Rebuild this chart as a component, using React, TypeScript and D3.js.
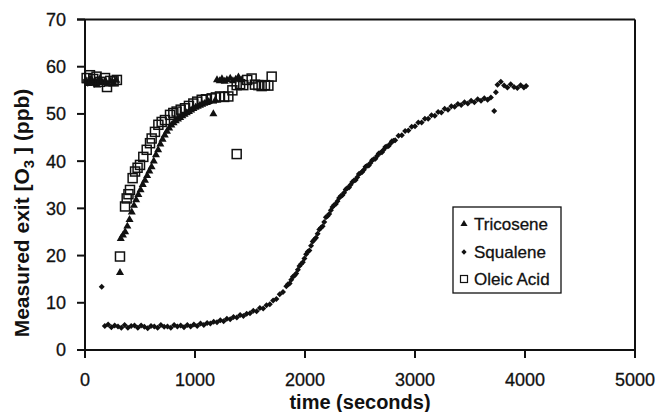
import React from "react";
import * as d3 from "d3";

// ---- data ----
const xTicks = [0, 1000, 2000, 3000, 4000, 5000];
const yTicks = [0, 10, 20, 30, 40, 50, 60, 70];
const seriesNames = ["Tricosene", "Squalene", "Oleic Acid"];

const tricoseneTime = [10, 35, 60, 85, 110, 135, 160, 185, 210, 235, 260, 285,
  318, 325, 345, 365, 385, 405, 425, 445, 465, 485, 505, 525, 545, 565, 585, 605, 625, 645, 665, 685,
  705, 725, 745, 765, 785, 805, 825, 845, 865, 885, 905, 925, 945, 965, 985, 1005, 1025, 1045, 1065,
  1085, 1105, 1125, 1167, 1185, 1200, 1225, 1245, 1270, 1290, 1320, 1345, 1370, 1395, 1420];
const tricoseneO3 = [57.0, 56.4, 57.2, 56.8, 56.1, 57.4, 56.6, 57.0, 56.3, 56.9, 56.5, 57.1,
  16.4, 23.6, 24.3, 25.0, 26.2, 27.6, 29.2, 30.6, 31.8, 32.9, 33.9, 35.0, 35.9, 36.9, 37.9, 38.8, 40.0, 41.3, 42.4, 43.6,
  44.6, 45.5, 46.3, 47.0, 47.6, 48.1, 48.5, 48.9, 49.2, 49.6, 49.9, 50.2, 50.5, 50.8, 51.1, 51.4, 51.6, 51.8, 52.0,
  52.2, 52.4, 52.6, 50.0, 52.9, 57.2, 57.0, 57.4, 56.9, 57.2, 57.5, 57.0, 57.3, 57.8, 57.2];

const squaleneTime = [5, 25, 45, 65, 85, 105, 125, 140, 152,
  180, 210, 240, 270, 300, 330, 360, 390, 420, 450, 480, 510, 540, 570, 600, 630, 660, 690, 720, 750,
  780, 810, 840, 870, 900, 930, 960, 990, 1020, 1050, 1080, 1110, 1140, 1170, 1200, 1230, 1260, 1290,
  1320, 1350, 1380, 1410, 1440, 1470, 1500, 1530, 1560, 1590, 1620, 1650, 1680, 1710, 1740, 1770, 1800,
  1830, 1860, 1890, 1920, 1950, 1980, 2010, 2040, 2070, 2100, 2130, 2160, 2190, 2220, 2250, 2280, 2310,
  2340, 2370, 2400, 2430, 2460, 2490, 2520, 2550, 2580, 2610, 2640, 2670, 2700, 2730, 2760, 2790, 2820,
  2850, 2880, 2910, 2940, 2970, 3000, 3030, 3060, 3090, 3120, 3150, 3180, 3210, 3240, 3270, 3300, 3330,
  3360, 3390, 3420, 3450, 3480, 3510, 3540, 3570, 3600, 3630, 3660, 3690, 3720, 3735, 3750, 3780, 3810,
  3840, 3870, 3900, 3930, 3960, 3990, 4010,
  1845, 1875, 1905, 1935, 1965, 1995, 2025, 2055, 2085, 2115, 2145, 2175, 2205, 2235, 2265, 2295, 2325,
  2355, 2385, 2415, 2445, 2475, 2505, 2535, 2565, 2595, 2625, 2655, 2685, 2715, 2745, 2775, 2805];
const squaleneO3 = [57.2, 56.4, 57.6, 56.8, 56.2, 57.0, 56.6, 56.9, 13.4,
  5.1, 5.4, 4.8, 5.2, 5.0, 4.7, 5.3, 4.7, 5.1, 5.2, 4.7, 5.2, 4.9, 4.6, 5.1, 5.0, 4.7, 5.3, 4.9, 5.0,
  4.7, 5.3, 5.0, 5.2, 4.8, 5.3, 5.0, 5.4, 5.1, 5.6, 5.3, 5.7, 5.6, 6.0, 5.9, 6.3, 6.1, 6.6,
  6.5, 7.0, 6.9, 7.4, 7.2, 7.7, 7.8, 8.3, 8.2, 8.9, 8.8, 9.5, 9.7, 10.5, 10.8, 11.8, 12.3,
  13.5, 14.1, 15.5, 16.2, 17.8, 18.6, 20.3, 21.1, 23.0, 23.8, 25.5, 26.2, 28.1, 28.8, 30.3, 30.9, 32.2,
  32.8, 34.0, 34.4, 35.6, 36.0, 37.3, 37.7, 38.8, 39.1, 40.2, 40.5, 41.6, 41.9, 43.0, 43.2, 44.2, 44.4,
  45.4, 45.5, 46.4, 46.5, 47.3, 47.4, 48.2, 48.2, 49.0, 49.0, 49.7, 49.6, 50.4, 50.3, 51.1, 50.9, 51.6,
  51.5, 52.1, 51.9, 52.5, 52.2, 52.8, 52.5, 53.1, 52.8, 53.3, 53.0, 53.5, 50.6, 54.6, 56.2, 56.8, 56.0,
  55.6, 56.3, 55.7, 55.5, 56.1, 55.6, 55.9,
  13.9, 14.9, 15.8, 17.0, 18.2, 19.4, 20.8, 22.1, 23.4, 24.6, 25.9, 27.1, 28.4, 29.6, 30.7, 31.5, 32.6,
  33.3, 34.3, 35.0, 35.9, 36.6, 37.5, 38.2, 39.0, 39.6, 40.4, 41.1, 41.8, 42.4, 43.1, 43.7, 44.3];

const oleicTime = [15, 45, 75, 105, 135, 182, 200, 230, 260, 290,
  318, 364, 379, 395, 409, 433, 455, 478, 500, 530, 561, 591, 606, 636, 667, 697, 727, 773, 803, 833,
  870, 909, 945, 985, 1020, 1061, 1100, 1152, 1190, 1227, 1265, 1303, 1340, 1379, 1379, 1410, 1439,
  1475, 1515, 1545, 1576, 1606, 1636, 1667, 1697];
const oleicO3 = [57.6, 58.2, 57.4, 57.9, 56.8, 57.6, 55.7, 57.0, 56.9, 57.2,
  19.8, 30.4, 32.1, 33.0, 33.9, 36.4, 37.8, 38.6, 39.2, 40.9, 42.4, 43.8, 44.8, 46.2, 47.7, 48.3, 48.7, 49.8, 50.2, 50.5,
  50.9, 51.2, 51.7, 52.2, 52.6, 53.0, 53.1, 53.3, 53.5, 53.7, 53.6, 53.7, 55.0, 41.5, 56.1, 56.3, 56.1,
  57.2, 57.5, 56.2, 56.1, 55.9, 56.1, 56.0, 57.9];

// ---- layout ----
const W = 657;
const H = 412;
const left = 85;
const right = 635;
const top = 19.5;
const bottom = 350;
const font = "'Liberation Sans', Arial, Helvetica, sans-serif";

export default function App() {
  const x = d3.scaleLinear().domain([0, 5000]).range([left, right]);
  const y = d3.scaleLinear().domain([0, 70]).range([bottom, top]);

  const tri = d3.symbol().type(d3.symbolTriangle).size(28)() as string;
  const dia = d3.symbol().type(d3.symbolSquare).size(18)() as string;
  const legTri = d3.symbol().type(d3.symbolTriangle).size(22)() as string;
  const legDia = d3.symbol().type(d3.symbolSquare).size(14)() as string;
  const sq = 9;

  const tric = tricoseneTime.map((t, i) => [t, tricoseneO3[i]]);
  const squa = squaleneTime.map((t, i) => [t, squaleneO3[i]]);
  const olei = oleicTime.map((t, i) => [t, oleicO3[i]]);

  const legX = 453, legY = 207, legW = 108, legH = 86;
  const rowY = [224, 252, 279];

  return (
    <svg width={W} height={H} style={{ position: "absolute", left: 0, top: 0, background: "#fff" }}>
      <rect x={0} y={0} width={W} height={H} fill="#fff" />
      {/* frame */}
      <g stroke="#111" strokeWidth={2} fill="none">
        <line x1={left - 8} x2={right} y1={top} y2={top} />
        <line x1={left - 8} x2={right} y1={bottom} y2={bottom} />
        <line x1={left} x2={left} y1={top} y2={bottom + 8} />
        <line x1={right} x2={right} y1={top} y2={bottom + 8} />
        {yTicks.map((v) => (
          <line key={"yt" + v} x1={left - 8} x2={left} y1={y(v)} y2={y(v)} />
        ))}
        {xTicks.map((v) => (
          <line key={"xt" + v} x1={x(v)} x2={x(v)} y1={bottom} y2={bottom + 8} />
        ))}
      </g>
      {/* tick labels */}
      <g fontFamily={font} fontSize={18} fill="#111" stroke="#111" strokeWidth={0.3}>
        {yTicks.map((v) => (
          <text key={"yl" + v} x={66} y={y(v)} dy="0.36em" textAnchor="end">{v}</text>
        ))}
        {xTicks.map((v) => (
          <text key={"xl" + v} x={x(v)} y={386} textAnchor="middle">{v}</text>
        ))}
      </g>
      {/* axis titles */}
      <text x={(left + right) / 2} y={409} textAnchor="middle" fontFamily={font} fontSize={20} fontWeight="bold" fill="#111">
        time (seconds)
      </text>
      <text transform={`translate(29,213) rotate(-90)`} textAnchor="middle" fontFamily={font} fontSize={21} fontWeight="bold" fill="#111">
        Measured exit [O<tspan fontSize={15} dy={5}>3</tspan><tspan dy={-5}> ] (ppb)</tspan>
      </text>
      {/* series */}
      <g fill="#111">
        {tric.map((d, i) => (
          <path key={"t" + i} d={tri} transform={`translate(${x(d[0])},${y(d[1])})`} />
        ))}
      </g>
      <g fill="#111">
        {squa.map((d, i) => (
          <path key={"s" + i} d={dia} transform={`translate(${x(d[0])},${y(d[1])}) rotate(45)`} />
        ))}
      </g>
      <g fill="none" stroke="#111" strokeWidth={1.5}>
        {olei.map((d, i) => (
          <rect key={"o" + i} x={x(d[0]) - sq / 2} y={y(d[1]) - sq / 2} width={sq} height={sq} />
        ))}
      </g>
      {/* legend */}
      <rect x={legX} y={legY} width={legW} height={legH} fill="#fff" stroke="#111" strokeWidth={1.3} />
      <path d={legTri} transform={`translate(464,${rowY[0]})`} fill="#111" />
      <path d={legDia} transform={`translate(464,${rowY[1]}) rotate(45)`} fill="#111" />
      <rect x={460.5} y={rowY[2] - 3.5} width={7} height={7} fill="none" stroke="#111" strokeWidth={1.2} />
      <g fontFamily={font} fontSize={17} fill="#111" stroke="#111" strokeWidth={0.3}>
        {seriesNames.map((n, i) => (
          <text key={n} x={474} y={rowY[i]} dy="0.36em">{n}</text>
        ))}
      </g>
    </svg>
  );
}
